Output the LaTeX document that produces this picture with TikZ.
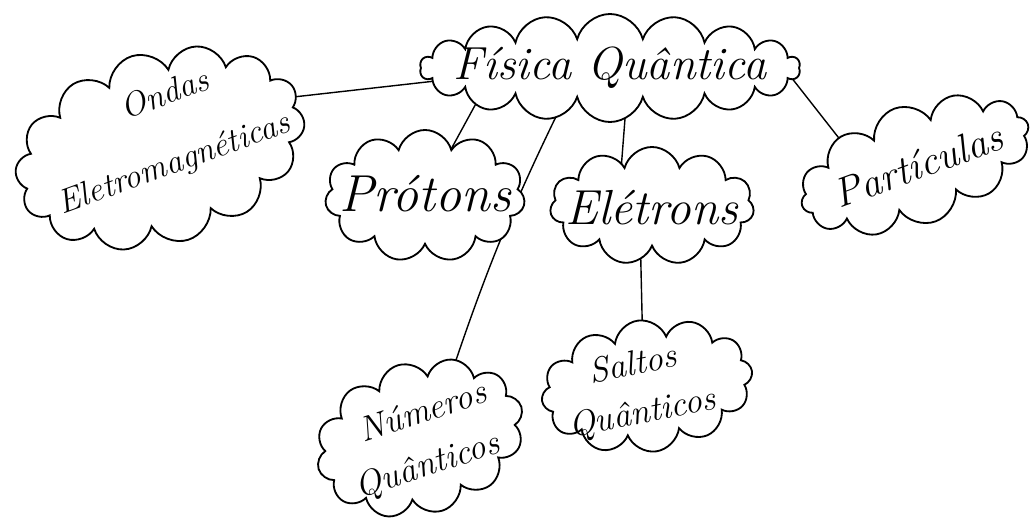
\documentclass[tikz,border=0pt]{standalone}
\usetikzlibrary{shapes.symbols,calc,backgrounds}
\begin{document}
\begin{tikzpicture}[x=0.025cm,y=-0.025cm,
  cl/.style={cloud,cloud ignores aspect,draw=black,fill=white,line width=1.3pt,cloud puffs=#1,inner sep=0pt},
  cl/.default=12,
  lbl/.style={inner sep=0pt,align=center,font=\fontsize{#1}{#1}\selectfont\itshape},
  link/.style={draw=black,line width=1pt}]
\useasboundingbox (0,0) rectangle (1032,527);
% clouds
\node[cl=18,minimum width=9.5cm,minimum height=2.7cm] (fis) at (610,68) {};
\node[cl=14,minimum width=7.4cm,minimum height=4.8cm,rotate=17] (ond) at (160,148) {};
\node[cl=11,minimum width=5cm,minimum height=3.3cm] (prot) at (425,196) {};
\node[cl=11,minimum width=5.1cm,minimum height=2.95cm] (ele) at (652,206) {};
\node[cl=12,minimum width=6cm,minimum height=3cm,rotate=20] (part) at (915,165) {};
\node[cl=12,minimum width=5.3cm,minimum height=3.8cm,rotate=17] (num) at (420,438) {};
\node[cl=12,minimum width=5.3cm,minimum height=3.3cm,rotate=8] (sal) at (647,386) {};
% texts
\node[lbl=24,rotate=20] (ondT) at ($(ond.center)+(3,-15)$) {\hspace*{0.75cm}Ondas\\[24pt]Eletromagnéticas};
\node[lbl=33] (fisT) at (fis.center) {Física Quântica};
\node[lbl=37] (protT) at ($(prot.center)+(0,-2)$) {Prótons};
\node[lbl=35] (eleT) at ($(ele.center)+(0,2)$) {Elétrons};
\node[lbl=29,rotate=20] (partT) at ($(part.center)+(3,0)$) {Partículas};
\node[lbl=25,rotate=18] (numT) at ($(num.center)+(0,4)$) {\hspace*{0.6cm}Números\\[12pt]Quânticos};
\node[lbl=25,rotate=11] (salT) at ($(sal.center)+(-9,4)$) {Saltos\\[10pt]Quânticos};
\begin{pgfonlayer}{background}
\draw[link] ($(ond.center)+(80,-45)$) -- ($(fis.center)+(-130,8)$);
\draw[link] ($(prot.center)+(6,-10)$) -- ($(fis.center)+(-131,30)$);
\draw[link] ($(num.center)+(25,-45)$) to[bend left=4] ($(fis.center)+(-40,20)$);
\draw[link] ($(ele.center)+(-32,-23)$) -- ($(fis.center)+(17,25)$);
\draw[link] ($(part.center)+(-55,0)$) -- ($(fis.center)+(170,-5)$);
\draw[link] ($(ele.center)+(-12,20)$) -- ($(sal.center)+(-4,-30)$);
\end{pgfonlayer}
\end{tikzpicture}
\end{document}
